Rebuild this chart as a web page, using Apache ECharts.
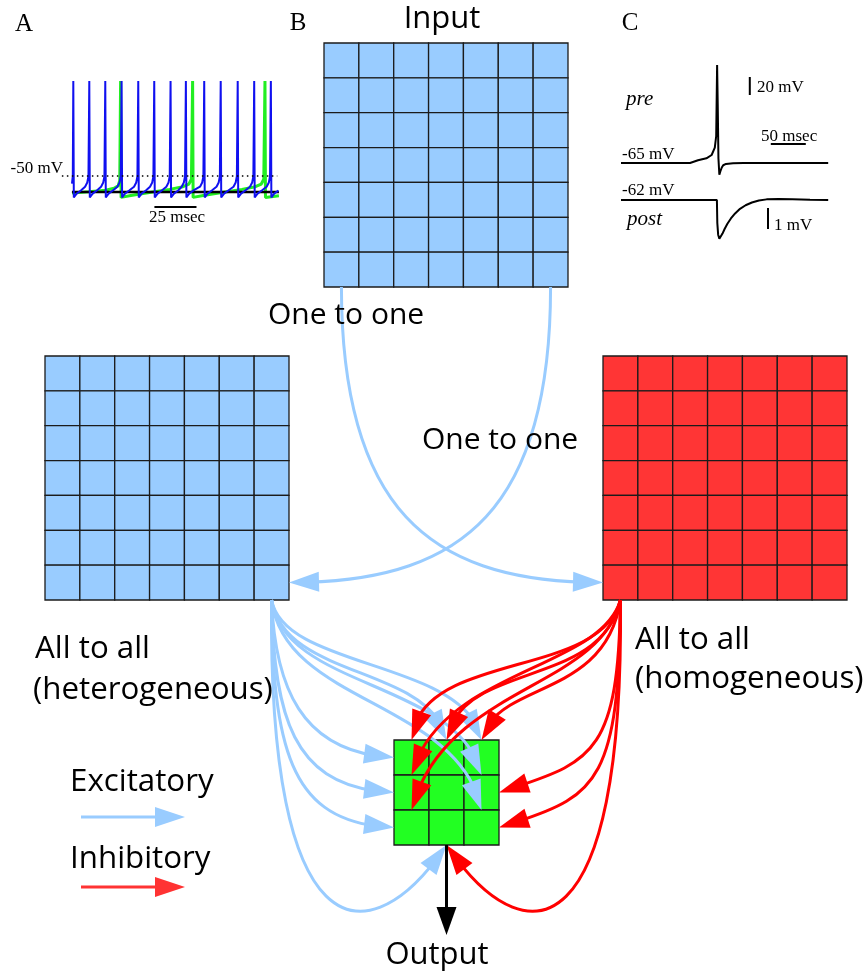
<!DOCTYPE html>
<html>
<head>
<meta charset="utf-8">
<script src="https://cdn.jsdelivr.net/npm/echarts@6/dist/echarts.min.js"></script>
<style>
  html, body { margin: 0; padding: 0; background: #fff; }
  #chart { width: 866px; height: 973px; }
</style>
</head>
<body>
<div id="chart"></div>
<script>
// ---------- Panel A: membrane potential (time ms, voltage mV) ----------
const traceBlue = [
  [0,-57],[0.5,-50],[0.8,39],
  [1.1,-70],[2.8,-66.5],[5.3,-63.5],[7.8,-60],[9.1,-56],[9.8,-50],[10.3,39],
  [10.6,-70],[12.3,-66.5],[14.8,-63.5],[17.3,-60],[18.6,-56],[19.3,-50],[19.8,39],
  [20.1,-70],[21.8,-66.5],[24.3,-63.5],[27,-60],[28.3,-56],[29,-50],[29.5,39],
  [29.8,-70],[31.5,-66.5],[34,-63.5],[36.9,-60],[38.2,-56],[38.9,-50],[39.4,39],
  [39.7,-70],[41.4,-66.5],[43.9,-63.5],[46.4,-60],[47.7,-56],[48.4,-50],[48.9,39],
  [49.2,-70],[50.9,-66.5],[53.4,-63.5],[56.1,-60],[57.4,-56],[58.1,-50],[58.6,39],
  [58.9,-70],[60.6,-66.5],[63.1,-63.5],[65.2,-60],[66.5,-56],[67.2,-50],[67.7,39],
  [68,-70],[69.7,-66.5],[72.2,-63.5],[76.1,-60],[77.4,-56],[78.1,-50],[78.6,39],
  [78.9,-70],[80.6,-66.5],[83.1,-63.5],[85.9,-60],[87.2,-56],[87.9,-50],[88.4,39],
  [88.7,-70],[90.4,-66.5],[92.9,-63.5],[96,-60],[97.3,-56],[98,-50],[98.5,39],
  [98.8,-70],[100.5,-66.5],[103,-63.5],[105.8,-60],[107.1,-56],[107.8,-50],[108.3,39],
  [108.6,-70],[110.3,-66.5],[112.8,-63.5],[115.7,-60],[117,-56],[117.7,-50],[118.2,39],
  [118.5,-70],[120.2,-66.5],[122.7,-63.5],[123,-63.3]
];
const traceGreen = [
  [0,-66],[10,-64.8],[20,-63.2],[25,-61.5],[27.5,-59],[28.4,-54],[28.9,39],
  [29.2,-70],[35,-68.3],[46,-65.5],[58,-62.5],[66,-60],[69.5,-57.5],[71,-53],[71.7,39],
  [72,-70],[78,-68.3],[89,-65.5],[101,-62.5],[109,-60],[112.5,-57.5],[114,-53],[114.7,39],
  [115,-70],[123,-68.5]
];
const traceRest = [[0,-65],[123,-65]];
const thresholdLine = [[-6,-50],[122,-50]];
const scaleBarA = [[49,-79],[74,-79]];

// ---------- Panel C: pre- and postsynaptic potentials ----------
const preTrace = [
  [0,-65],[98.6,-65],[110,-62],[122,-59.8],[129.5,-56.1],[134,-48],[136,-35],
  [137.3,44],[138.2,0],[139.2,-60],[140.5,-78],[142,-74],[144,-70],[146,-67.5],
  [150,-66],[160,-65.3],[175,-65],[296,-65]
];
const postTrace = [
  [0,-62],[137,-62],[137.6,-63.1],[138.8,-63.65],[140.5,-63.85],[142.5,-63.78],
  [145,-63.6],[148,-63.38],[152,-63.13],[157,-62.88],[163,-62.64],[170,-62.42],
  [178,-62.25],[187,-62.12],[197,-62.02],[208,-61.97],[225,-61.95],[245,-61.96],
  [270,-61.99],[296,-62]
];
const preBarVolt = [[184,10.6],[184,30.6]];     // 20 mV
const preBarTime = [[214,-43.9],[264,-43.9]];   // 50 msec
const postBarVolt = [[210,-62.38],[210,-63.38]]; // 1 mV

// ---------- Panel B: network ----------
const layerNames = ['input', 'excitatory', 'inhibitory', 'output'];
const layerSize = [7, 7, 7, 3];
// one-to-one: [source column, target layer, target column, target row, side]
const oneToOne = [
  [0, 'inhibitory', 0, 6, 'left'],
  [6, 'excitatory', 6, 6, 'right']
];
// all-to-all onto the output layer: [column, row, side of cell]
const excToOutput = [
  [0,0,'left'],[0,1,'left'],[0,2,'left'],[1,2,'bottom'],
  [1,0,'top'],[2,0,'top'],[2,0,'bottom'],[2,1,'bottom']
];
const inhToOutput = [
  [2,1,'right'],[2,2,'right'],[1,2,'bottom'],
  [0,0,'top'],[1,0,'top'],[2,0,'top'],[0,0,'bottom'],[0,1,'bottom']
];

// ---------- layout & style ----------
const layerOrigin = { input:[324,43], excitatory:[45,356], inhibitory:[603,356], output:[394,740] };
const cellSize = { input:244/7, excitatory:244/7, inhibitory:244/7, output:35 };
const layerColor = { input:'#99ccff', excitatory:'#99ccff', inhibitory:'#ff3535', output:'#22ff22' };
const EXC = '#99ccff', INH = '#ff0000';
// curve bends: [offset of first control point from source, offset of second from target]
const oneToOneBend = [[[0,233],[-163,0]], [[0,233],[163,0]]];
const excBend = [
  [[4,100],[-84,-4]], [[2,130],[-94,-4]], [[1,160],[-99,-4]], [[-4,370],[-70,105]],
  [[13,80],[-16,-75]], [[13,70],[-16,-80]], [[13,90],[-23,-95]], [[13,105],[-23,-110]]
];
const inhBend = [
  [[-2,160],[90,-30]], [[-1,190],[95,-30]], [[4,370],[70,105]],
  [[-20,80],[8,-90]], [[-20,90],[15,-80]], [[-15,100],[15,-60]],
  [[-20,70],[28,-105]], [[-20,90],[33,-125]]
];
const outputDrop = 90;

function anchor(name, col, row, side) {
  const o = layerOrigin[name], s = cellSize[name];
  const x0 = o[0] + col * s, y0 = o[1] + row * s;
  if (side === 'left') return [x0, y0 + s / 2];
  if (side === 'right') return [x0 + s, y0 + s / 2];
  if (side === 'top') return [x0 + s / 2, y0];
  return [x0 + s / 2, y0 + s];
}

// cubic curve ending in a filled arrowhead (pixel space)
function arrowShapes(p0, c1, c2, p3, color, width, len, half) {
  const B = t => {
    const u = 1 - t;
    return [u*u*u*p0[0] + 3*u*u*t*c1[0] + 3*u*t*t*c2[0] + t*t*t*p3[0],
            u*u*u*p0[1] + 3*u*u*t*c1[1] + 3*u*t*t*c2[1] + t*t*t*p3[1]];
  };
  const tAt = d => {
    let lo = 0, hi = 1;
    for (let i = 0; i < 40; i++) {
      const m = (lo + hi) / 2, q = B(m);
      if (Math.hypot(q[0] - p3[0], q[1] - p3[1]) > d) lo = m; else hi = m;
    }
    return lo;
  };
  const qb = B(tAt(len));
  let ux = p3[0] - qb[0], uy = p3[1] - qb[1];
  const n = Math.hypot(ux, uy) || 1; ux /= n; uy /= n;
  const bc = [p3[0] - ux * len, p3[1] - uy * len];
  const t = tAt(len * 0.6);
  const lerp = (a, b) => [a[0] + (b[0] - a[0]) * t, a[1] + (b[1] - a[1]) * t];
  const a1 = lerp(p0, c1), b1 = lerp(c1, c2), d1 = lerp(c2, p3);
  const a2 = lerp(a1, b1), b2 = lerp(b1, d1), e = lerp(a2, b2);
  return [
    { type:'bezierCurve', shape:{ x1:p0[0], y1:p0[1], cpx1:a1[0], cpy1:a1[1], cpx2:a2[0], cpy2:a2[1], x2:e[0], y2:e[1] },
      style:{ stroke:color, lineWidth:width, fill:null } },
    { type:'polygon', shape:{ points:[ p3, [bc[0] - uy*half, bc[1] + ux*half], [bc[0] + uy*half, bc[1] - ux*half] ] },
      style:{ fill:color } }
  ];
}

function connectionSeries(list, srcOf, tgtOf, bends, color, z) {
  return {
    type:'custom', xAxisIndex:0, yAxisIndex:0, silent:true, z:z, animation:false,
    data: list.map((c, i) => [i]),
    renderItem: function (params, api) {
      const i = params.dataIndex;
      const s = srcOf(list[i]), g = tgtOf(list[i]);
      const b = bends[i];
      const p0 = api.coord(s), p3 = api.coord(g);
      const c1 = api.coord([s[0] + b[0][0], s[1] + b[0][1]]);
      const c2 = api.coord([g[0] + b[1][0], g[1] + b[1][1]]);
      return { type:'group', children: arrowShapes(p0, c1, c2, p3, color, 3, 30, 10) };
    }
  };
}

const cellData = [];
layerNames.forEach((name, li) => {
  for (let r = 0; r < layerSize[li]; r++)
    for (let c = 0; c < layerSize[li]; c++) cellData.push([li, c, r]);
});

const excSrc = anchor('excitatory', 6, 6, 'bottom');
const inhSrc = anchor('inhibitory', 0, 6, 'bottom');

const serifFont = '"Liberation Serif", "Times New Roman", serif';
const sansFont = '"Open Sans", "Noto Sans", sans-serif';
function label(text, x, y, size, align, family, style) {
  return { type:'text', x:x, y:y, silent:true, z:100,
    style:{ text:text, font:(style ? style + ' ' : '') + size + 'px ' + family, fill:'#000',
            textAlign:align, align:align, textVerticalAlign:'middle', verticalAlign:'middle' } };
}

const chart = echarts.init(document.getElementById('chart'));
chart.setOption({
  animation: false,
  backgroundColor: '#fff',
  grid: [
    { left:0, top:0, width:866, height:973 },
    { left:58.5, top:74.7, width:223.8, height:135.5 },
    { left:621, top:63.1, width:210, height:113.4 },
    { left:621, top:191.6, width:210, height:50.4 }
  ],
  xAxis: [
    { type:'value', gridIndex:0, min:0, max:866, show:false },
    { type:'value', gridIndex:1, min:-8, max:125, show:false },
    { type:'value', gridIndex:2, min:0, max:300, show:false },
    { type:'value', gridIndex:3, min:0, max:300, show:false }
  ],
  yAxis: [
    { type:'value', gridIndex:0, min:0, max:973, inverse:true, show:false },
    { type:'value', gridIndex:1, min:-82, max:45, show:false },
    { type:'value', gridIndex:2, min:-80, max:46, show:false },
    { type:'value', gridIndex:3, min:-64, max:-61.6, show:false }
  ],
  series: [
    // Panel A
    { type:'line', xAxisIndex:1, yAxisIndex:1, data:traceGreen, symbol:'none', clip:false, silent:true,
      lineStyle:{ color:'#22ee22', width:3 }, z:2 },
    { type:'line', xAxisIndex:1, yAxisIndex:1, data:traceRest, symbol:'none', clip:false, silent:true,
      lineStyle:{ color:'#000', width:2.5 }, z:2 },
    { type:'line', xAxisIndex:1, yAxisIndex:1, data:traceBlue, symbol:'none', clip:false, silent:true,
      lineStyle:{ color:'#1010f0', width:2 }, z:3 },
    { type:'line', xAxisIndex:1, yAxisIndex:1, data:thresholdLine, symbol:'none', clip:false, silent:true,
      lineStyle:{ color:'#000', width:1.5, type:[1.5, 3.5] }, z:4 },
    { type:'line', xAxisIndex:1, yAxisIndex:1, data:scaleBarA, symbol:'none', clip:false, silent:true,
      lineStyle:{ color:'#000', width:2 }, z:4 },
    // Panel C
    { type:'line', xAxisIndex:2, yAxisIndex:2, data:preTrace, symbol:'none', clip:false, silent:true,
      lineStyle:{ color:'#000', width:2 } },
    { type:'line', xAxisIndex:2, yAxisIndex:2, data:preBarVolt, symbol:'none', clip:false, silent:true,
      lineStyle:{ color:'#000', width:2 } },
    { type:'line', xAxisIndex:2, yAxisIndex:2, data:preBarTime, symbol:'none', clip:false, silent:true,
      lineStyle:{ color:'#000', width:2 } },
    { type:'line', xAxisIndex:3, yAxisIndex:3, data:postTrace, symbol:'none', clip:false, silent:true,
      lineStyle:{ color:'#000', width:2 } },
    { type:'line', xAxisIndex:3, yAxisIndex:3, data:postBarVolt, symbol:'none', clip:false, silent:true,
      lineStyle:{ color:'#000', width:2 } },
    // Panel B: layers
    { type:'custom', xAxisIndex:0, yAxisIndex:0, silent:true, z:2, data:cellData,
      renderItem: function (params, api) {
        const name = layerNames[api.value(0)];
        const o = layerOrigin[name], s = cellSize[name];
        const c = api.value(1), r = api.value(2);
        const a = api.coord([o[0] + c * s, o[1] + r * s]);
        const b = api.coord([o[0] + (c + 1) * s, o[1] + (r + 1) * s]);
        return { type:'rect', shape:{ x:a[0], y:a[1], width:b[0]-a[0], height:b[1]-a[1] },
                 style:{ fill:layerColor[name], stroke:'#1b1b1b', lineWidth:1.3 } };
      } },
    // one-to-one projections
    connectionSeries(oneToOne,
      c => anchor('input', c[0], 6, 'bottom'),
      c => anchor(c[1], c[2], c[3], c[4]),
      oneToOneBend, EXC, 3),
    // all-to-all excitatory
    connectionSeries(excToOutput, c => excSrc, c => anchor('output', c[0], c[1], c[2]), excBend, EXC, 4),
    // all-to-all inhibitory
    connectionSeries(inhToOutput, c => inhSrc, c => anchor('output', c[0], c[1], c[2]), inhBend, INH, 5),
    // output
    { type:'custom', xAxisIndex:0, yAxisIndex:0, silent:true, z:6, data:[[0]],
      renderItem: function (params, api) {
        const s = anchor('output', 1, 2, 'bottom');
        const p0 = api.coord(s), p3 = api.coord([s[0], s[1] + outputDrop]);
        return { type:'group', children: arrowShapes(p0, p0, p3, p3, '#000', 3, 28, 10) };
      } }
  ],
  graphic: [
    label('A', 24, 24, 25, 'center', serifFont),
    label('B', 298, 23, 25, 'center', serifFont),
    label('C', 630, 23, 25, 'center', serifFont),
    label('-50 mV', 63, 169, 17, 'right', serifFont),
    label('25 msec', 177, 218, 17, 'center', serifFont),
    label('pre', 626, 99, 21, 'left', serifFont, 'italic'),
    label('post', 627, 219, 21, 'left', serifFont, 'italic'),
    label('-65 mV', 622, 155, 17, 'left', serifFont),
    label('-62 mV', 622, 191, 17, 'left', serifFont),
    label('20 mV', 757, 88, 17, 'left', serifFont),
    label('50 msec', 761, 137, 17, 'left', serifFont),
    label('1 mV', 774, 226, 17, 'left', serifFont),
    label('Input', 442, 19, 31, 'center', sansFont),
    label('One to one', 268, 315, 30, 'left', sansFont),
    label('One to one', 422, 440, 30, 'left', sansFont),
    label('All to all', 35, 649, 31.3, 'left', sansFont),
    label('(heterogeneous)', 33, 690, 31.3, 'left', sansFont),
    label('All to all', 635, 640, 31.3, 'left', sansFont),
    label('(homogeneous)', 635, 679, 31.3, 'left', sansFont),
    label('Excitatory', 70, 782, 31.3, 'left', sansFont),
    label('Inhibitory', 70, 859, 31.3, 'left', sansFont),
    label('Output', 437, 955, 31, 'center', sansFont),
    { type:'line', silent:true, shape:{ x1:81, y1:817, x2:165, y2:817 }, style:{ stroke:EXC, lineWidth:3 } },
    { type:'polygon', silent:true, shape:{ points:[[185,817],[155,807],[155,827]] }, style:{ fill:EXC } },
    { type:'line', silent:true, shape:{ x1:81, y1:887, x2:165, y2:887 }, style:{ stroke:'#ff3333', lineWidth:3 } },
    { type:'polygon', silent:true, shape:{ points:[[185,887],[155,877],[155,897]] }, style:{ fill:'#ff3333' } }
  ]
});
</script>
</body>
</html>
